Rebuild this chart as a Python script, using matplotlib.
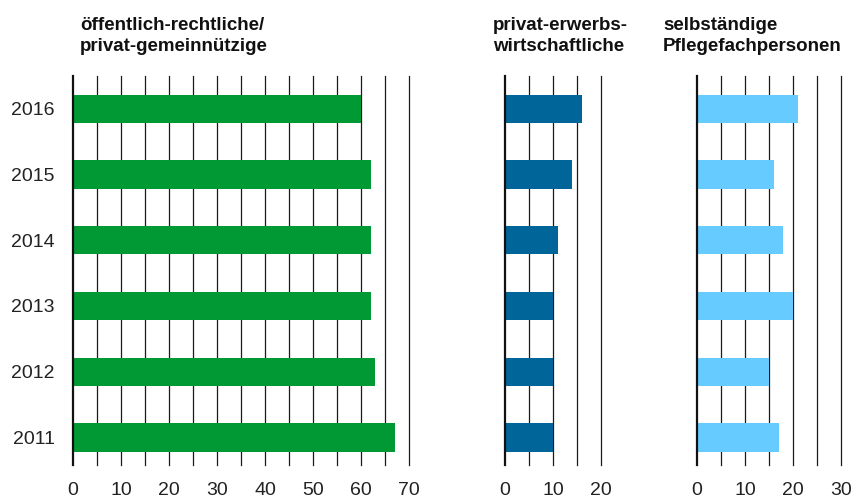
import numpy as np
import matplotlib.pyplot as plt

plt.rcParams['font.family'] = ['Liberation Sans', 'DejaVu Sans']

jahre = ['2011', '2012', '2013', '2014', '2015', '2016']
oeffentlich = [67, 63, 62, 62, 62, 60]
privat = [10, 10, 10, 11, 14, 16]
selbst = [17, 15, 20, 18, 16, 21]

titel = ['öffentlich-rechtliche/\nprivat-gemeinnützige',
         'privat-erwerbs-\nwirtschaftliche',
         'selbständige\nPflegefachpersonen']
farben = ['#009933', '#006699', '#66ccff']
xmax = [70, 20, 30]

W, H = 854, 500
fig = plt.figure(figsize=(W / 100, H / 100), dpi=100)

# pixel positions: (left, right) of x range, title x
panels = [(73, 409, 80), (505, 601, 493), (697, 841, 663)]
top, bottom = 76, 465

y = np.arange(len(jahre))
for i, (l, r, tx) in enumerate(panels):
    ax = fig.add_axes([l / W, 1 - bottom / H, (r - l) / W, (bottom - top) / H])
    werte = [oeffentlich, privat, selbst][i]
    for g in np.arange(5, xmax[i] + 1, 5):
        ax.axvline(g, color='#1a1a1a', lw=0.9, zorder=1, clip_on=False)
    ax.axvline(0, color='#111111', lw=1.6, zorder=3, clip_on=False)
    ax.barh(y, werte, height=0.43, color=farben[i], zorder=2)
    ax.set_xlim(0, xmax[i])
    ax.set_ylim(-0.42, 5.5)
    for s in ax.spines.values():
        s.set_visible(False)
    ax.set_xticks(np.arange(0, xmax[i] + 1, 10))
    ax.tick_params(axis='x', length=0, pad=12.5, labelsize=14, labelcolor='#222222')
    if i == 0:
        ax.set_yticks(y)
        ax.set_yticklabels(jahre)
        ax.tick_params(axis='y', length=0, pad=13, labelsize=14, labelcolor='#222222')
    else:
        ax.set_yticks([])
    fig.text(tx / W, 1 - 17 / H, titel[i], ha='left', va='top', fontsize=13.5,
             fontweight='bold', color='#111111', linespacing=1.32)

fig.savefig('out.png', dpi=100)
